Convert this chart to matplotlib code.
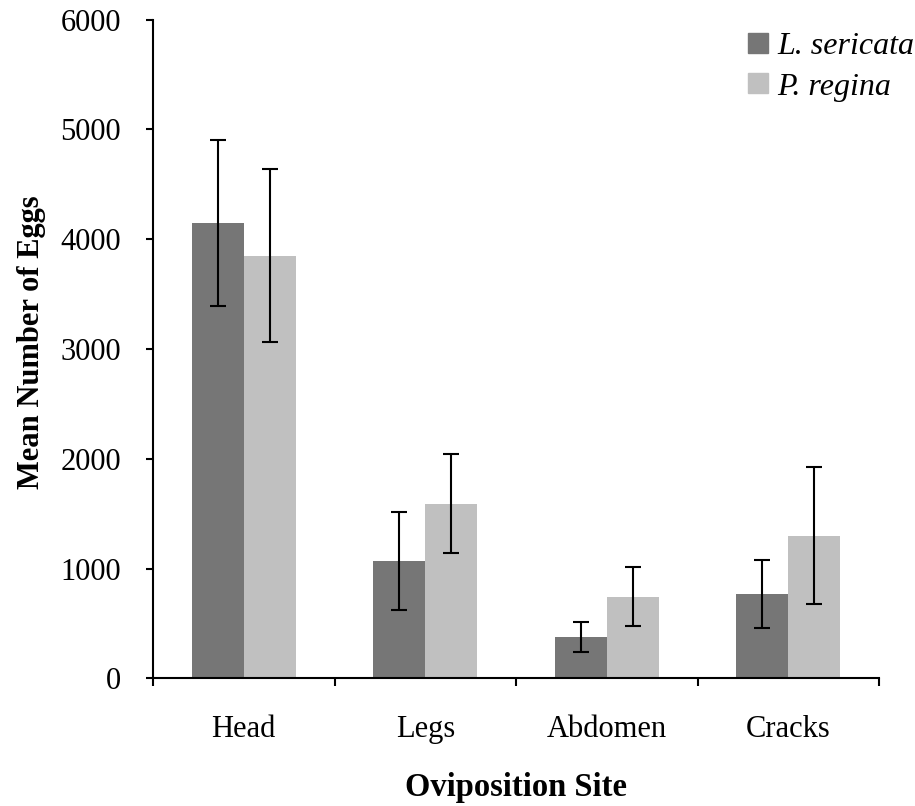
import matplotlib
matplotlib.use("Agg")
import matplotlib.pyplot as plt
import numpy as np
from matplotlib.patches import Patch

# data
sites = ["Head", "Legs", "Abdomen", "Cracks"]
sericata_mean = [4145, 1070, 375, 770]
sericata_err = [756, 445, 136, 311]
regina_mean = [3850, 1590, 745, 1300]
regina_err = [787, 451, 272, 622]

dark = "#767676"
light = "#c0c0c0"

plt.rcParams["font.family"] = ["Liberation Serif", "DejaVu Serif"]
plt.rcParams["font.size"] = 22

fig = plt.figure(figsize=(9.15, 8.06), dpi=100)
ax = fig.add_axes([0.1672, 0.1583, 0.7935, 0.8174])

x = np.arange(len(sites))
w = 0.2865
ekw = dict(elinewidth=1.5, capthick=1.5, ecolor="black")
ax.bar(x - w / 2, sericata_mean, w, color=dark, yerr=sericata_err,
       capsize=6, error_kw=ekw)
ax.bar(x + w / 2, regina_mean, w, color=light, yerr=regina_err,
       capsize=6, error_kw=ekw)

ax.set_xlim(-0.5, len(sites) - 0.5)
ax.set_ylim(0, 6000)
ax.set_yticks(np.arange(0, 6001, 1000))

# group boundaries get tick marks, names sit in between
ax.set_xticks(np.arange(len(sites) + 1) - 0.5)
ax.set_xticklabels([])
ax.set_xticks(x, minor=True)
ax.set_xticklabels(sites, minor=True)
ax.tick_params(axis="x", which="major", direction="out", length=6, width=1.5)
ax.tick_params(axis="x", which="minor", length=0, pad=26)
ax.tick_params(axis="y", direction="out", length=5, width=1.5, pad=18)

for s in ["top", "right"]:
    ax.spines[s].set_visible(False)
for s in ["left", "bottom"]:
    ax.spines[s].set_linewidth(1.5)

ax.set_xlabel("Oviposition Site", fontweight="bold", fontsize=23.5)
ax.xaxis.set_label_coords(0.5, -0.165)
ax.xaxis.label.set_va("center")
ax.set_ylabel("Mean Number of Eggs", fontweight="bold")
ax.yaxis.set_label_coords(-0.168, 0.51)
ax.yaxis.label.set_va("center")

handles = [Patch(color=dark, label="L. sericata"),
           Patch(color=light, label="P. regina")]
leg = ax.legend(handles=handles, loc="upper left",
                bbox_to_anchor=(742 / 915, 1 - 26 / 806),
                bbox_transform=fig.transFigure, frameon=False, fontsize=23,
                handlelength=0.6, handleheight=0.6, handletextpad=0.3,
                labelspacing=0.35, borderpad=0.2, borderaxespad=0)
for t in leg.get_texts():
    t.set_style("italic")

fig.savefig("out.png", dpi=100)
